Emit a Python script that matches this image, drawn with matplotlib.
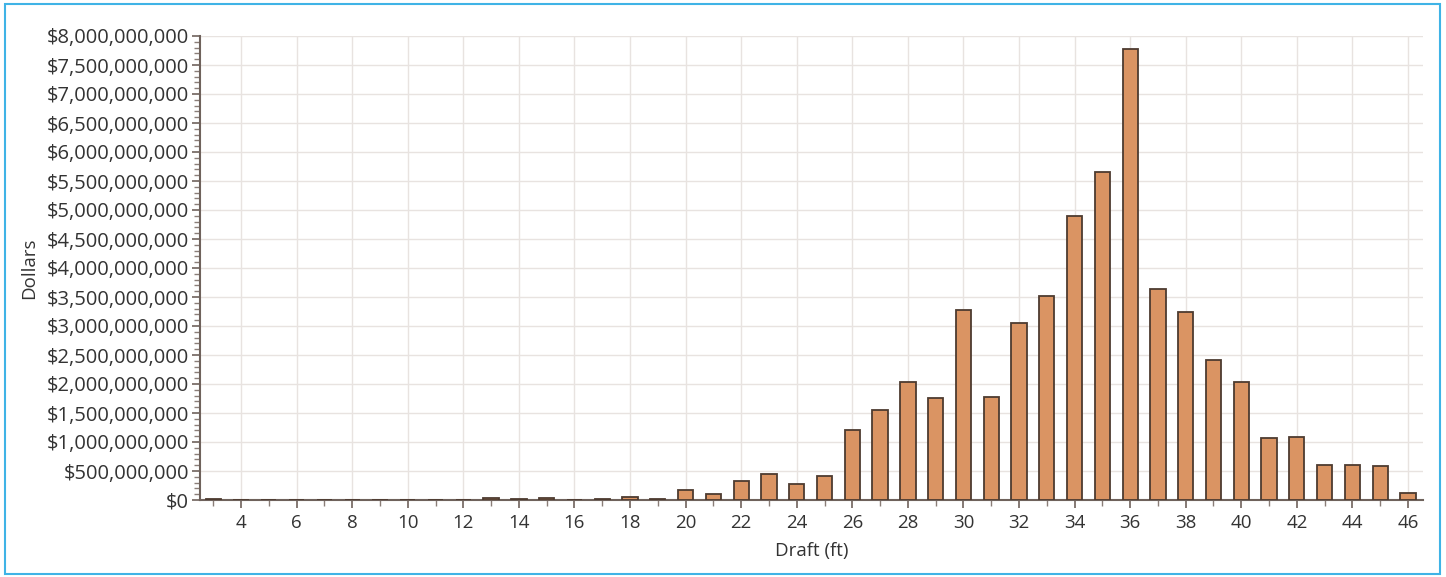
import matplotlib
matplotlib.use("Agg")
import matplotlib.pyplot as plt
from matplotlib.ticker import MultipleLocator, FuncFormatter
from matplotlib.patches import Rectangle

drafts = list(range(3, 47))
values = [
    12e6, 0, 0, 0, 0, 0, 0, 0, 0, 0,          # 3-12
    40e6, 15e6, 40e6, 0, 15e6, 52e6, 15e6,    # 13-19
    172e6, 110e6, 333e6, 443e6, 276e6, 414e6, # 20-25
    1207e6, 1552e6, 2034e6, 1753e6, 3276e6,   # 26-30
    1782e6, 3057e6, 3523e6, 4902e6, 5650e6,   # 31-35
    7776e6, 3638e6, 3236e6, 2408e6, 2034e6,   # 36-40
    1069e6, 1092e6, 609e6, 609e6, 591e6,      # 41-45
    115e6,                                    # 46
]
x_label = "Draft (ft)"
y_label = "Dollars"

plt.rcParams['font.family'] = ['Open Sans', 'DejaVu Sans']

fig = plt.figure(figsize=(14.46, 5.77), dpi=100)
ax = fig.add_axes([200/1446, 77/577, 1223/1446, 464/577])

ax.bar(drafts, values, width=0.55, color="#DA9463", edgecolor="#4d3b30",
       linewidth=1.3, zorder=3)

ax.set_xlim(2.524, 46.54)
ax.set_ylim(0, 8e9)

ax.xaxis.set_major_locator(MultipleLocator(2))
ax.xaxis.set_minor_locator(MultipleLocator(1))
ax.yaxis.set_major_locator(MultipleLocator(5e8))
ax.yaxis.set_minor_locator(MultipleLocator(1e8))
ax.yaxis.set_major_formatter(FuncFormatter(lambda v, p: "${:,.0f}".format(v)))

ax.grid(True, which="major", color="#e8e3e0", linewidth=1.0, zorder=0)
ax.set_axisbelow(True)

for s in ["top", "right"]:
    ax.spines[s].set_visible(False)
for s in ["left", "bottom"]:
    ax.spines[s].set_color("#6f625c")
    ax.spines[s].set_linewidth(1.5)

ax.tick_params(axis="both", which="major", direction="out", length=6, width=1.2,
               color="#6f625c", labelcolor="#333333")
ax.tick_params(axis="y", which="major", labelsize=14.5, pad=2)
ax.tick_params(axis="x", which="major", labelsize=13.5, pad=4)
ax.tick_params(axis="both", which="minor", direction="out", length=4, width=1.0,
               color="#8a7e78")

ax.set_xlabel(x_label, fontsize=13.5, color="#333333", labelpad=7)
ax.set_ylabel(y_label, fontsize=13.5, color="#333333", labelpad=6)

fig.patches.append(Rectangle((5/1446, 3/577), 1435/1446, 570/577,
                             transform=fig.transFigure, fill=False,
                             edgecolor="#3fb3e6", linewidth=1.5))

fig.savefig("out.png", dpi=100)
